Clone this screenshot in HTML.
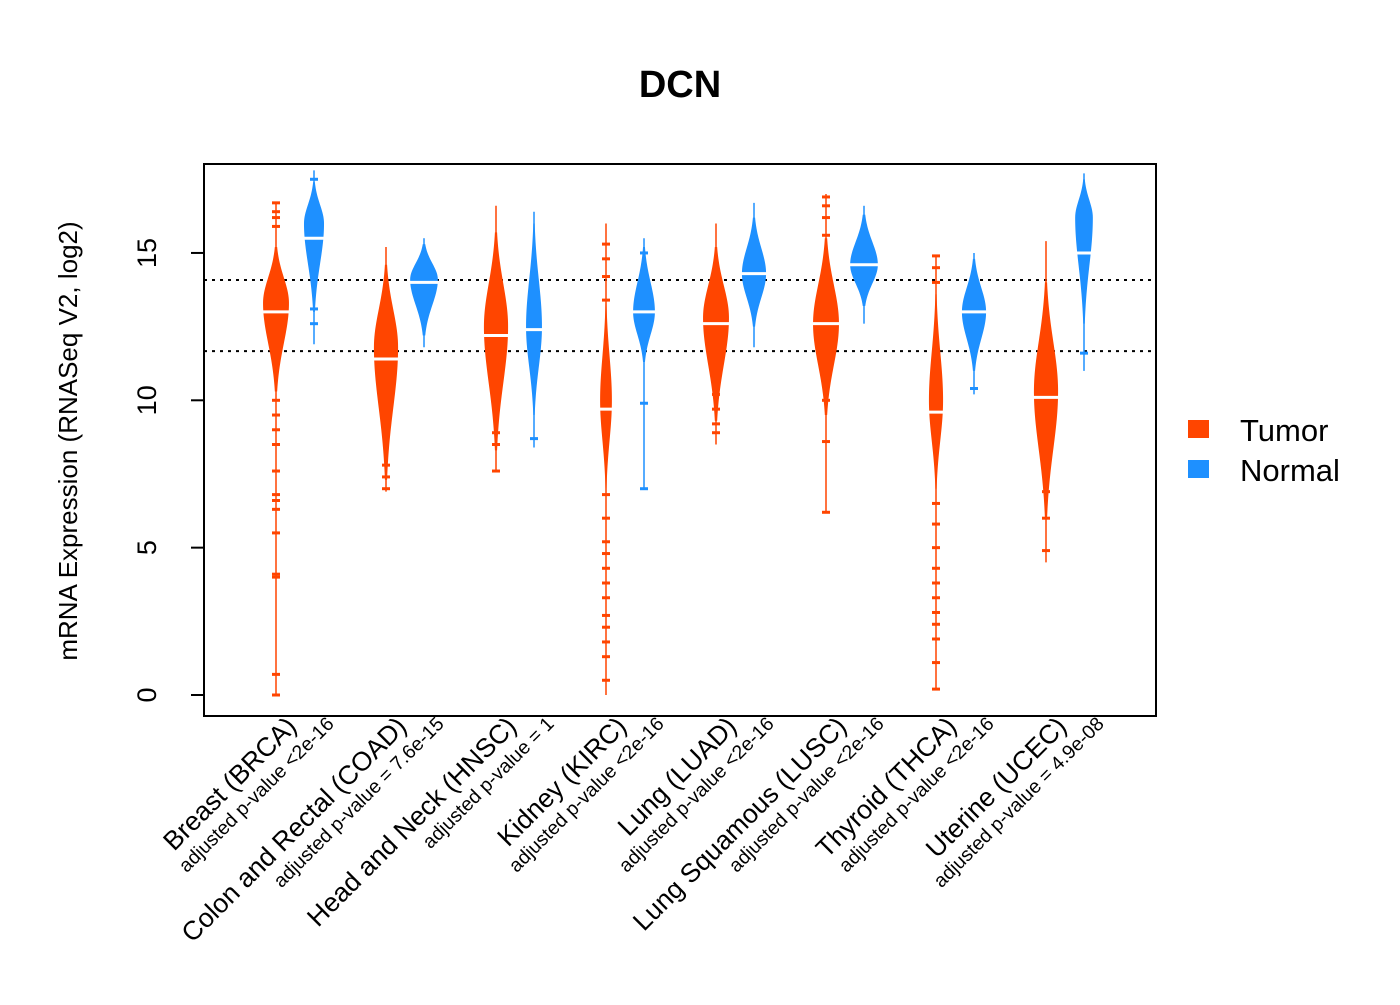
<!DOCTYPE html>
<html><head><meta charset="utf-8"><style>
html,body{margin:0;padding:0;background:#fff;}
svg text{font-family:"Liberation Sans",Arial,sans-serif;}
</style></head><body>
<svg id="chart" width="1400" height="1000" xmlns="http://www.w3.org/2000/svg">
<text x="680" y="97" text-anchor="middle" font-size="38" font-weight="bold">DCN</text>
<g id="plot"></g>
<rect x="204" y="164" width="952" height="552" fill="none" stroke="#000" stroke-width="2"/>
<text transform="translate(77,441) rotate(-90)" text-anchor="middle" font-size="26">mRNA Expression (RNASeq V2, log2)</text>
<g>
<rect x="1188" y="420" width="21" height="18" fill="#FF4500"/>
<text x="1240" y="441" font-size="31">Tumor</text>
<rect x="1188" y="460" width="21" height="18" fill="#1E90FF"/>
<text x="1240" y="481" font-size="31">Normal</text>
</g>
</svg>
<script>
const categories=["Breast (BRCA)","Colon and Rectal (COAD)","Head and Neck (HNSC)","Kidney (KIRC)","Lung (LUAD)","Lung Squamous (LUSC)","Thyroid (THCA)","Uterine (UCEC)"];
const pvalues=["adjusted p-value <2e-16","adjusted p-value = 7.6e-15","adjusted p-value = 1","adjusted p-value <2e-16","adjusted p-value <2e-16","adjusted p-value <2e-16","adjusted p-value <2e-16","adjusted p-value = 4.9e-08"];
const tumorMin=[0,6.9,7.6,0,8.5,6.2,0.2,4.5];
const tumorMax=[16.7,15.2,16.6,16.0,16.0,17.0,14.9,15.4];
const tumorMode=[13.3,11.8,12.5,10.0,12.8,12.6,10.0,10.3];
const tumorHalfWidth=[0.44,0.41,0.41,0.2,0.44,0.44,0.24,0.41];
const tumorMedian=[13.0,11.4,12.2,9.7,12.6,12.6,9.6,10.1];
const tumorBodyLow=[10.3,7.3,8.3,7.0,9.3,9.5,7.0,6.0];
const tumorBodyHigh=[15.2,14.6,15.7,13.3,15.2,15.5,13.6,14.0];
const normalMin=[11.9,11.8,8.4,7.0,11.8,12.6,10.2,11.0];
const normalMax=[17.8,15.5,16.4,15.5,16.7,16.6,15.0,17.7];
const normalMode=[16.0,14.1,12.5,13.0,14.3,14.6,13.0,16.2];
const normalHalfWidth=[0.34,0.47,0.27,0.37,0.41,0.47,0.41,0.3];
const normalMedian=[15.5,14.0,12.4,13.0,14.3,14.6,13.0,15.0];
const normalBodyLow=[13.0,12.2,9.5,11.3,12.5,13.2,11.0,12.6];
const normalBodyHigh=[17.4,15.3,16.0,15.2,16.2,16.3,14.8,17.5];
const tumorOutliers=[[16.7,16.4,16.2,15.9,10,9.5,9,8.5,7.6,6.8,6.6,6.3,5.5,4.1,4.0,0.7,0.0],[7.8,7.4,7.0],[8.9,8.5,7.6],[15.3,14.8,14.2,13.4,6.8,6.0,5.2,4.8,4.3,3.8,3.3,2.7,2.3,1.8,1.3,0.5],[10.2,9.7,9.2,8.9],[16.9,16.6,16.2,15.6,10.0,8.6,6.2],[14.9,14.5,14.0,6.5,5.8,5.0,4.3,3.8,3.3,2.8,2.4,1.9,1.1,0.2],[6.9,6.0,4.9]];
const normalOutliers=[[17.5,13.1,12.6],[],[8.7],[15.0,9.9,7.0],[],[],[10.4],[11.6]];
const yTicks=[0,5,10,15];
const refLines=[14.08,11.67];

const NS="http://www.w3.org/2000/svg";
const g=document.getElementById('plot');
const y=v=>695-v*29.47;
const xT=i=>276+i*110, xN=i=>314+i*110;
const wpx=u=>u*29.47;
function mk(t,a){const e=document.createElementNS(NS,t);for(const k in a)e.setAttribute(k,a[k]);g.appendChild(e);return e;}
refLines.forEach((v,i)=>{const l=mk('line',{x1:204,x2:1156,y1:y(v),y2:y(v),stroke:'#000','stroke-width':2,'stroke-dasharray':'3,5'});

});
yTicks.forEach(v=>{const l=mk('line',{x1:191,x2:204,y1:y(v),y2:y(v),stroke:'#000','stroke-width':2});


const t=mk('text',{transform:`translate(156,${y(v)}) rotate(-90)`,'text-anchor':'middle','font-size':27});t.textContent=v;

});
function bean(cx,col,mn,mx,mode,hw,med,lo,hi,outs,name){
  const pts=[],n=60,W=wpx(hw);
  for(let k=0;k<=n;k++){const v=lo+(hi-lo)*k/n;const s=v>mode?(hi-mode)/2.2:(mode-lo)/2.2;const w=W*Math.exp(-0.5*((v-mode)/s)**2);pts.push([w,v]);}
  const d='M'+pts.map(p=>`${cx+p[0]},${y(p[1])}`).join('L')+'L'+pts.reverse().map(p=>`${cx-p[0]},${y(p[1])}`).join('L')+'Z';
  const ln=mk('line',{x1:cx,x2:cx,y1:y(mx),y2:y(mn),stroke:col,'stroke-width':1.5});
  
  
  const p=mk('path',{d:d,fill:col});
  
  
  outs.forEach(v=>{const o=mk('line',{x1:cx-4,x2:cx+4,y1:y(v),y2:y(v),stroke:col,'stroke-width':3});
  
  });
  const m=mk('line',{x1:cx-W-2,x2:cx+W+2,y1:y(med),y2:y(med),stroke:'#fff','stroke-width':3});
  
  
}
categories.forEach((c,i)=>{
  bean(xT(i),'#FF4500',tumorMin[i],tumorMax[i],tumorMode[i],tumorHalfWidth[i],tumorMedian[i],tumorBodyLow[i],tumorBodyHigh[i],tumorOutliers[i],'tumor-'+i);
  bean(xN(i),'#1E90FF',normalMin[i],normalMax[i],normalMode[i],normalHalfWidth[i],normalMedian[i],normalBodyLow[i],normalBodyHigh[i],normalOutliers[i],'normal-'+i);
  const t=mk('text',{transform:`translate(${xT(i)+22},${728}) rotate(-45)`,'text-anchor':'end','font-size':26.5});t.textContent=c;
  
  
  const p=mk('text',{transform:`translate(${xN(i)+21},${725}) rotate(-45)`,'text-anchor':'end','font-size':19.5});p.textContent=pvalues[i];
  
  
});
</script>
</body></html>
